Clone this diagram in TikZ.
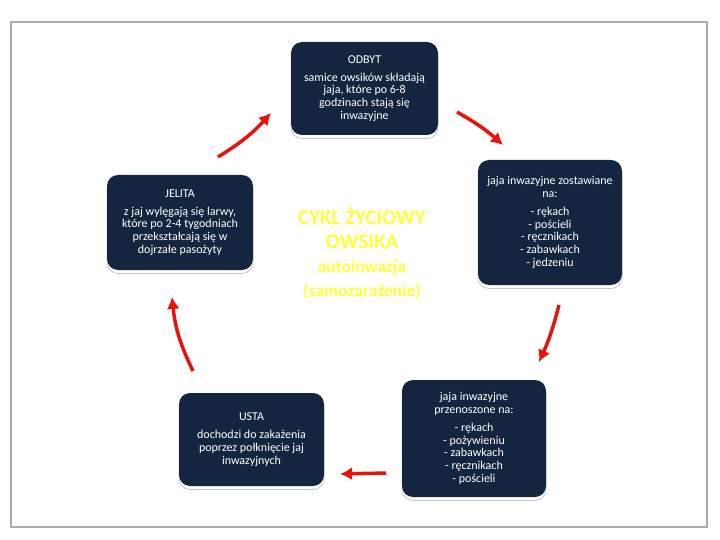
\documentclass[tikz,border=0pt]{standalone}
\usepackage{fontspec}
\setmainfont{Carlito}
\usetikzlibrary{arrows.meta}
\definecolor{navy}{HTML}{14263F}
\definecolor{arrowred}{HTML}{E8120E}
\definecolor{titleyellow}{HTML}{FFFF3A}
\tikzset{
  stage/.style={fill=navy, text=white, rounded corners=11pt, align=center,
    inner sep=0pt, font=\fontsize{12}{12.8}\selectfont,
    preaction={fill=white, draw=gray!45, line width=0.8pt,
      transform canvas={yshift=-3.5pt}}},
  cyclearrow/.style={draw=arrowred, line width=3.5pt,
    -{Latex[length=12pt,width=13pt]}}
}
\begin{document}
\begin{tikzpicture}[x=1pt, y=-1pt]
  \useasboundingbox (0,0) rectangle (720,540);
  % ramka
  \draw[gray!65, line width=1.6pt] (11,22) rectangle (707,527);
  % etapy cyklu
  \node[stage, minimum width=147pt, minimum height=93pt] (odbyt) at (364.5,88.5)
    {ODBYT\\[5pt] samice owsików składają\\ jaja, które po 6-8\\ godzinach stają się\\ inwazyjne};
  \node[stage, minimum width=144pt, minimum height=125pt] (zostawiane) at (550,222.5)
    {jaja inwazyjne zostawiane\\ na:\\[5pt] - rękach\\ - pościeli\\ - ręcznikach\\ - zabawkach\\ - jedzeniu};
  \node[stage, minimum width=144pt, minimum height=117pt] (przenoszone) at (474,438.5)
    {jaja inwazyjne\\ przenoszone na:\\[5pt] - rękach\\ - pożywieniu\\ - zabawkach\\ - ręcznikach\\ - pościeli};
  \node[stage, minimum width=145pt, minimum height=93pt] (usta) at (251.5,439.5)
    {USTA\\[5pt] dochodzi do zakażenia\\ poprzez połknięcie jaj\\ inwazyjnych};
  \node[stage, minimum width=146pt, minimum height=95pt] (jelita) at (180,222.5)
    {JELITA\\[5pt] z jaj wylęgają się larwy,\\ które po 2-4 tygodniach\\ przekształcają się w\\ dojrzałe pasożyty};
  % tytul
  \node[align=center, text=titleyellow, font=\bfseries\fontsize{21}{23.5}\selectfont] (tytul) at (362,253)
    {CYKL ŻYCIOWY\\ OWSIKA\\[1pt]
     \fontsize{17.5}{23.5}\selectfont autoinwazja\\
     \fontsize{17.5}{23.5}\selectfont (samozarażenie)};
  % strzalki
  \coordinate (a1) at (218,157);  \coordinate (b1) at (271,113);
  \coordinate (a2) at (457,112);  \coordinate (b2) at (503,145);
  \coordinate (a3) at (559,305);  \coordinate (b3) at (539,362);
  \coordinate (a4) at (386,473);  \coordinate (b4) at (340,474);
  \coordinate (a5) at (193,371);  \coordinate (b5) at (172,297);
  \draw[cyclearrow] (a1) to[bend right=8] (b1);
  \draw[cyclearrow] (a2) to[bend left=6] (b2);
  \draw[cyclearrow] (a3) to[bend left=5] (b3);
  \draw[cyclearrow] (a4) -- (b4);
  \draw[cyclearrow] (a5) to[bend left=10] (b5);
\end{tikzpicture}
\end{document}
